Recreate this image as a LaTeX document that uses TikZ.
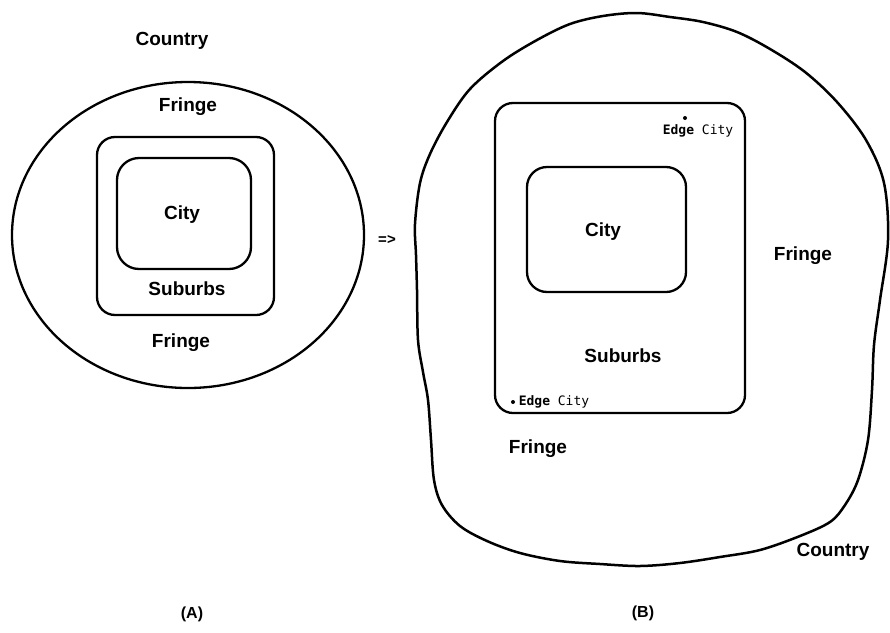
\documentclass[tikz,border=0pt]{standalone}
\usepackage{fontspec}
\setmainfont{Liberation Sans}
\newfontfamily\edgefont{DejaVu Sans Mono}
\usetikzlibrary{shapes.geometric}
\begin{document}
\begin{tikzpicture}[x=1pt,y=-1pt,
  outline/.style={draw=black, line width=2.3pt},
  zone/.style={outline, rectangle, inner sep=0pt, outer sep=0pt},
  lbl/.style={font=\fontsize{19}{22}\selectfont\bfseries, inner sep=0pt},
  edgelbl/.style={font=\edgefont\fontsize{13}{15}\selectfont, inner sep=0pt},
  caption/.style={font=\fontsize{16}{18}\selectfont\bfseries, inner sep=0pt},
  dot/.style={circle, fill=black, inner sep=0pt, minimum size=4pt}]

\useasboundingbox[fill=white] (0,0) rectangle (890,632);

% ---- (A): concentric city model ----
\node[outline, ellipse, inner sep=0pt, minimum width=352pt, minimum height=306pt] (fringeA) at (188,235) {};
\node[zone, rounded corners=18pt, minimum width=177pt, minimum height=178pt] (subA) at (185.5,226) {};
\node[zone, rounded corners=22pt, minimum width=134pt, minimum height=111pt] (cityA) at (184,213.5) {};

\node[lbl] (countryA) at (172,41) {Country};
\node[lbl] (fringeAtop) at (188,107) {Fringe};
\node[lbl] (cityAlbl) at (182,215) {City};
\node[lbl] (subAlbl) at (187,289) {Suburbs};
\node[lbl] (fringeAbot) at (181,343) {Fringe};

\node[font=\fontsize{15}{17}\selectfont\bfseries, inner sep=0pt] (becomes) at (387,240) {=>};

% ---- (B): sprawling metropolis ----
\draw[outline, line width=2.5pt] plot[smooth cycle, tension=0.55] coordinates {
  (415,224) (420,183) (430,154) (447,122) (470,89) (503,61) (537,40)
  (570,24) (603,16) (637,13) (670,17) (703,22) (737,32) (770,49)
  (805,72) (837,102) (866,140) (884,183) (888,240) (880,300)
  (874,345) (872,390) (868,440) (858,480) (845,505) (830,522)
  (800,536) (760,550) (720,557) (680,563) (640,566) (600,564)
  (560,561) (520,553) (487,541) (460,526) (442,505) (434,480)
  (431,440) (428,400) (423,372) (418,340) (417,290) (416,255)};

\node[zone, rounded corners=18pt, minimum width=250pt, minimum height=310pt] (subB) at (620,258) {};
\node[zone, rounded corners=20pt, minimum width=159pt, minimum height=125pt] (cityB) at (606.5,229.5) {};

\node[lbl] (cityBlbl) at (603,232) {City};
\node[lbl] (subBlbl) at (623,356) {Suburbs};
\node[lbl] (fringeBright) at (803,256) {Fringe};
\node[lbl] (fringeBlow) at (538,449) {Fringe};
\node[lbl] (countryB) at (833,552) {Country};

\node[dot] (edgeTopDot) at (685,118) {};
\node[edgelbl] (edgeTop) at (698,131) {\textbf{Edge} City};
\node[dot] (edgeBotDot) at (513,402) {};
\node[edgelbl] (edgeBot) at (554,402) {\textbf{Edge} City};

% ---- captions ----
\node[caption] (capA) at (192,614) {(A)};
\node[caption] (capB) at (643,613) {(B)};
\end{tikzpicture}
\end{document}
